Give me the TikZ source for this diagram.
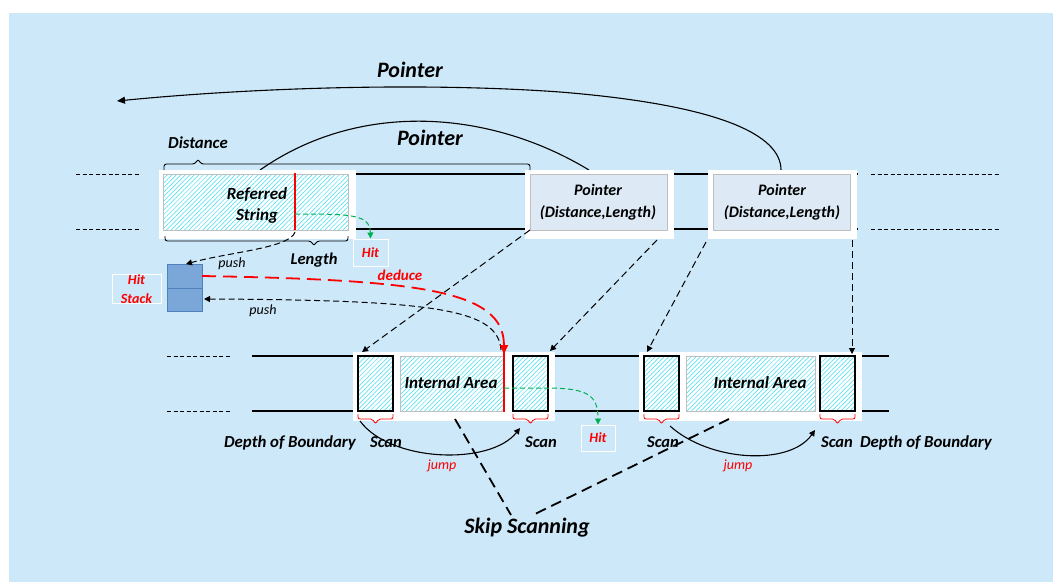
\documentclass[tikz,border=0pt]{standalone}
\usepackage{fontspec}
\setmainfont{Carlito}
\usetikzlibrary{arrows.meta,patterns.meta}
\definecolor{bg}{RGB}{205,232,249}
\definecolor{hatchc}{RGB}{60,222,240}
\definecolor{ptrfill}{RGB}{221,234,246}
\definecolor{stackfill}{RGB}{123,167,216}
\definecolor{stackline}{RGB}{79,129,189}
\definecolor{grn}{RGB}{0,176,80}
\tikzset{
  hatched/.style={preaction={fill=white}, pattern={Lines[angle=45,distance=3.2pt,line width=0.5pt]}, pattern color=hatchc},
  bi/.style={font=\fontsize{#1}{#1}\selectfont\bfseries\itshape, inner sep=0pt},
  it/.style={font=\fontsize{#1}{#1}\selectfont\itshape, inner sep=0pt},
  twoline/.style={align=center, font=\fontsize{16}{22}\selectfont\bfseries\itshape, inner sep=0pt},
  rowline/.style={line width=1.1pt, black},
  rowdash/.style={line width=1pt, dash pattern=on 4pt off 2.5pt},
  tip/.style={-{Triangle[width=6pt,length=6pt]}},
  darrow/.style={tip, line width=1pt, dash pattern=on 7pt off 4pt},
  pusharrow/.style={tip, line width=1pt, dash pattern=on 6pt off 3.5pt},
  skipline/.style={line width=1.8pt, dash pattern=on 11pt off 6pt},
  jumparrow/.style={tip, line width=1.1pt},
  redbrace/.style={red, line width=0.8pt, rounded corners=2pt},
  hitbox/.style={draw=white, line width=1pt, text=red, inner sep=0pt},
  whitebox/.style={fill=white},
  scanbox/.style={hatched, draw=black, line width=1.2pt},
  iarea/.style={hatched, draw=black!25, line width=0.6pt},
}
\begin{document}
\begin{tikzpicture}[x=1pt,y=-1pt]
\useasboundingbox (0,0) rectangle (1053,582);
\fill[white] (0,0) rectangle (1053,582);
\fill[bg] (9,13) rectangle (1053,582);

% ---------- top row ----------
\draw[rowdash] (76,174) -- (139,174);
\draw[rowdash] (76,229) -- (139,229);
\draw[rowline] (159,174) -- (858,174);
\draw[rowline] (159,229) -- (858,229);
\draw[rowdash] (871,174) -- (999,174);
\draw[rowdash] (871,229) -- (999,229);

% pointer curves
\coordinate (p2top) at (781,170);
\coordinate (far) at (117,101);
\draw[line width=1.1pt, -{Triangle[width=7pt,length=8pt]}] (p2top) .. controls (781,135) and (720,105) .. (560,92) .. controls (420,82) and (250,88) .. (far);
\coordinate (p1top) at (589,170);
\coordinate (reftop) at (260,170);
\draw[line width=1.1pt] (p1top) .. controls (490,110) and (360,100) .. (reftop);

% referred string
\fill[whitebox] (159,170) rectangle (356,239);
\draw[iarea] (163,174) rectangle (348,230);
\node[twoline, font=\fontsize{17}{21}\selectfont\bfseries\itshape] (refstr) at (257,205) {Referred\\String};
\draw[red, line width=2pt] (295,173) -- (295,230);
\coordinate (redtop) at (295,232);

% pointer boxes
\fill[whitebox] (525,170) rectangle (674,239);
\draw[fill=ptrfill, draw=black!25, line width=0.8pt] (530,174) rectangle (667,230);
\node[twoline] (ptr1) at (598,202) {Pointer\\(Distance,Length)};
\fill[whitebox] (708,170) rectangle (857,239);
\draw[fill=ptrfill, draw=black!25, line width=0.8pt] (713,174) rectangle (850,230);
\node[twoline] (ptr2) at (782,202) {Pointer\\(Distance,Length)};

% braces
\draw[line width=0.9pt, rounded corners=2.5pt] (164,170) -- (164,164) -- (195,164) -- (198,159) -- (201,164) -- (530,164) -- (530,170);
\draw[line width=0.9pt, rounded corners=2.5pt] (165,236) -- (165,241) -- (311,241) -- (314,246) -- (317,241) -- (348,241) -- (348,236);

% labels top
\node[bi=22] (ptrlbl1) at (410,70) {Pointer};
\node[bi=22] (ptrlbl2) at (430,138) {Pointer};
\node[bi=16.8] (dist) at (198,143) {Distance};
\node[bi=16.5] (len) at (314,260) {Length};

% hit box 1
\node[hitbox, minimum width=35pt, minimum height=27pt, font=\fontsize{14}{14}\selectfont\bfseries\itshape] (hit1) at (370.5,252.5) {Hit};
\draw[grn, line width=1pt, dash pattern=on 5pt off 3pt, -{Triangle[width=6pt,length=6pt]}] (295,214) .. controls (350,214) and (370,214) .. (hit1.north);

% hit stack
\draw[stackline, fill=stackfill, line width=1pt] (167,264) rectangle (202,311);
\draw[stackline, line width=1pt] (167,288) -- (202,288);
\coordinate (stacktop) at (186,264);
\coordinate (stackright1) at (202,276);
\coordinate (stackright2) at (204,299);
\node[hitbox, minimum width=49pt, minimum height=26pt, align=center, font=\fontsize{14}{19}\selectfont\bfseries\itshape] (hitstack) at (136.5,289) {Hit\\Stack};

% ---------- lower row ----------
\draw[rowdash] (167,356) -- (230,356);
\draw[rowdash] (167,411) -- (230,411);
\draw[rowline] (252,356) -- (889,356);
\draw[rowline] (252,411) -- (889,411);

\fill[whitebox] (353,352) rectangle (555,421);
\draw[iarea] (400,356) rectangle (503,411);
\draw[scanbox] (358,356) rectangle (393,411);
\draw[scanbox] (513,356) rectangle (548,411);
\node[bi=17] (ia1) at (451,383) {Internal Area};
\draw[red, line width=2pt] (504,352) -- (504,412);

\fill[whitebox] (639,352) rectangle (862,421);
\draw[iarea] (686,356) rectangle (815,411);
\draw[scanbox] (644,356) rectangle (679,411);
\draw[scanbox] (820,356) rectangle (855,411);
\node[bi=17] (ia2) at (760,383) {Internal Area};

% red braces under scans
\foreach \a/\b in {358/393, 513/548, 644/679, 820/855}{
  \pgfmathsetmacro{\m}{(\a+\b)/2}
  \draw[redbrace] (\a,414) -- (\a,419) -- (\m-3,419) -- (\m,424) -- (\m+3,419) -- (\b,419) -- (\b,414);
}

% named end points
\coordinate (s1tl) at (362,352);
\coordinate (s2tr) at (550,351);
\coordinate (s3tl) at (647,352);
\coordinate (s4tr) at (852,354);
\coordinate (redlow) at (504,354);
\coordinate (pushstart) at (501,350);

% dashed pointer arrows
\draw[darrow] (530,230) -- (s1tl);
\draw[darrow] (657,240) -- (s2tr);
\draw[darrow] (706,242) -- (s3tl);
\draw[darrow] (852,240) -- (s4tr);

% push arrows
\draw[pusharrow] (redtop) .. controls (290,248) and (230,252) .. (stacktop);
\draw[pusharrow] (pushstart) .. controls (498,310) and (440,300) .. (stackright2);
\node[it=14] (push1) at (232,264) {push};
\node[it=14] (push2) at (263,311) {push};

% deduce
\draw[red, line width=1.8pt, dash pattern=on 14pt off 7pt, -{Triangle[width=8pt,length=9pt]}] (stackright1) .. controls (420,280) and (504,290) .. (redlow);
\node[bi=15, text=red] (deduce) at (400,275) {deduce};

% hit box 2
\node[hitbox, minimum width=34pt, minimum height=26pt, font=\fontsize{14}{14}\selectfont\bfseries\itshape] (hit2) at (598,438) {Hit};
\draw[grn, line width=1pt, dash pattern=on 5pt off 3pt, -{Triangle[width=6pt,length=6pt]}] (504,388) -- (545,388) .. controls (588,388) and (598,395) .. (hit2.north);

% jump arrows
\coordinate (j1s) at (360,421);
\coordinate (j1e) at (520,428);
\coordinate (j2s) at (670,426);
\coordinate (j2e) at (815,430);
\draw[jumparrow] (j1s) .. controls (390,462) and (490,466) .. (j1e);
\draw[jumparrow] (j2s) .. controls (710,462) and (790,466) .. (j2e);
\node[it=14, text=red] (jump1) at (442,466) {jump};
\node[it=14, text=red] (jump2) at (738,466) {jump};

% scan labels
\node[bi=16.5] (scan1) at (386,442) {Scan};
\node[bi=16.5] (scan2) at (541,442) {Scan};
\node[bi=16.5] (scan3) at (663,442) {Scan};
\node[bi=16.5] (scan4) at (837,442) {Scan};
\node[bi=16.8] (dob1) at (290,443) {Depth of Boundary};
\node[bi=16.8] (dob2) at (926,443) {Depth of Boundary};

% skip scanning
\node[bi=22] (skip) at (527,528) {Skip Scanning};
\coordinate (sk1) at (455,419);
\coordinate (sk2) at (729,419);
\draw[skipline] (sk1) -- (511,515);
\draw[skipline] (sk2) -- (533,515);
\end{tikzpicture}
\end{document}
